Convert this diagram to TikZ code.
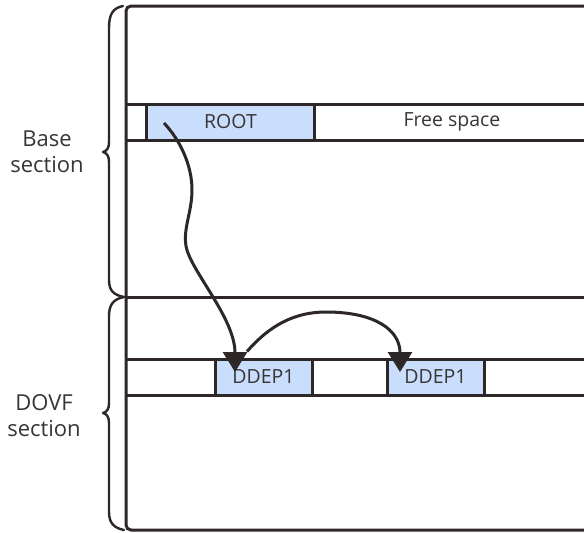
\documentclass[tikz,border=0pt]{standalone}
\usepackage{fontspec}
\setmainfont{Open Sans}
\usetikzlibrary{arrows.meta}
\definecolor{ink}{HTML}{2D2727}
\definecolor{txt}{HTML}{3A3535}
\definecolor{cellblue}{HTML}{C9DEFC}
\tikzset{
  frameline/.style={draw=ink, line width=3pt},
  cell/.style={draw=ink, line width=3pt, minimum height=36pt, inner sep=0pt, text=txt, font=\fontsize{19.5}{22}\selectfont},
  usedcell/.style={cell, fill=cellblue},
  freecell/.style={cell, fill=white},
  brace/.style={draw=ink, line width=2.4pt, line cap=round, line join=round},
  sectlabel/.style={align=center, text=txt, font=\fontsize{22}{26}\selectfont, inner sep=0pt},
  ptr/.style={draw=ink, line width=3pt, -{Triangle[width=24pt,length=20pt]}},
}
\begin{document}
\begin{tikzpicture}[x=1pt,y=-1pt]
\clip (0,0) rectangle (584,533);
\fill[white] (0,0) rectangle (584,533);
% outer frame
\draw[frameline, rounded corners=5pt] (620,6) -- (126,6) -- (126,530) -- (620,530);
\draw[frameline] (126,297) -- (620,297);
% base row
\draw[frameline] (126,104) -- (620,104);
\draw[frameline] (126,140) -- (620,140);
\node[usedcell, minimum width=168pt] (root) at (230.5,122) {ROOT};
\node[freecell, minimum width=276pt] (free) at (452,122) {Free space};
% dovf row
\draw[frameline] (126,359) -- (620,359);
\draw[frameline] (126,395) -- (620,395);
\node[usedcell, minimum width=97pt] (dd1) at (263.5,377) {DDEP1};
\node[usedcell, minimum width=97pt] (dd2) at (435.5,377) {DDEP1};
% braces
\draw[brace] (123,6) .. controls (113,8) and (109,14) .. (109,28) -- (109,142)
  .. controls (109,148) and (107,151) .. (103,152)
  .. controls (107,153) and (109,156) .. (109,162) -- (109,280)
  .. controls (109,291) and (114,295) .. (124,297);
\draw[brace] (124,297) .. controls (114,299) and (109,304) .. (109,316) -- (109,403)
  .. controls (109,409) and (107,412) .. (103,413)
  .. controls (107,414) and (109,417) .. (109,423) -- (109,512)
  .. controls (109,523) and (114,528) .. (124,530);
\node[sectlabel] (lbase) at (47,152) {Base\\section};
\node[sectlabel] (ldovf) at (44,416) {DOVF\\section};
% pointers
\coordinate (rs) at ([xshift=19pt,yshift=-1pt]root.west);
\coordinate (d1t) at ([xshift=-28.5pt,yshift=5pt]dd1.center);
\coordinate (d1s) at ([xshift=-16.5pt,yshift=6pt]dd1.north);
\coordinate (d2t) at ([xshift=-35.5pt,yshift=5pt]dd2.center);
\draw[ptr] (rs) .. controls (180,140) and (192,165) .. (192,190)
  .. controls (192,212) and (183,228) .. (186,246)
  .. controls (190,270) and (235,318) .. (d1t);
\draw[ptr] (d1s) .. controls (270,325) and (295,312) .. (326,312)
  .. controls (375,312) and (400,330) .. (d2t);
\end{tikzpicture}
\end{document}
